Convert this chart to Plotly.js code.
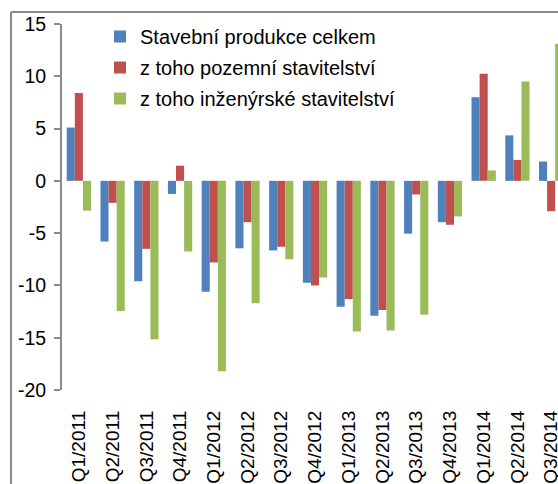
<!DOCTYPE html>
<html>
<head>
<meta charset="utf-8">
<script src="https://cdn.plot.ly/plotly-3.0.1.min.js"></script>
<style>
  html, body { margin: 0; padding: 0; overflow: hidden; background: #fff; }
  #chart { width: 600px; height: 484px; }
</style>
</head>
<body>
<div id="chart"></div>
<script>
const categories = ["Q1/2011","Q2/2011","Q3/2011","Q4/2011","Q1/2012","Q2/2012","Q3/2012","Q4/2012",
                    "Q1/2013","Q2/2013","Q3/2013","Q4/2013","Q1/2014","Q2/2014","Q3/2014"];
const seriesNames = ["Stavební produkce celkem", "z toho pozemní stavitelství", "z toho inženýrské stavitelství"];
const celkem    = [5.1, -5.8, -9.6, -1.25, -10.6, -6.45, -6.65, -9.75, -12.05, -12.9, -5.05, -3.95, 8.0, 4.35, 1.85];
const pozemni   = [8.4, -2.1, -6.5, 1.45, -7.8, -3.95, -6.3, -10.0, -11.3, -12.35, -1.3, -4.2, 10.25, 2.0, -2.9];
const inzenyrske= [-2.85, -12.45, -15.15, -6.75, -18.2, -11.7, -7.5, -9.25, -14.4, -14.3, -12.8, -3.4, 1.0, 9.5, 13.1];
const yTicks = [-20, -15, -10, -5, 0, 5, 10, 15];

const colors = ["#4F81BD", "#C0504D", "#9BBB59"];
const values = [celkem, pozemni, inzenyrske];

const W = 600, H = 484, ML = 62, MR = 32, MT = 24, MB = 94;
const PW = W - ML - MR, PH = H - MT - MB;
const px2x = p => (p - ML) / PW;
const px2y = p => 1 - (p - MT) / PH;

const traces = values.map((v, i) => ({
  type: "bar",
  name: seriesNames[i],
  x: categories,
  y: v,
  marker: { color: colors[i], line: { width: 0 } },
  legendgroup: "g" + i,
  hoverinfo: "x+y+name"
}));

const grey = "#8a8a8a";
const font = { family: "Liberation Sans, Arial, sans-serif", color: "#000" };

const layout = {
  width: W, height: H,
  margin: { l: ML, r: MR, t: MT, b: MB, pad: 0 },
  paper_bgcolor: "#fff", plot_bgcolor: "#fff",
  barmode: "group", bargap: 0.28, bargroupgap: 0,
  font: font,
  showlegend: true,
  legend: {
    x: px2x(100), xanchor: "left", y: px2y(17), yanchor: "top",
    bgcolor: "rgba(0,0,0,0)", borderwidth: 0,
    font: { family: font.family, size: 20, color: "#000" },
    tracegroupgap: 2, itemwidth: 30
  },
  xaxis: {
    type: "category", showline: false, showgrid: false, zeroline: false,
    ticks: "", tickangle: -90, ticklabelstandoff: 16,
    tickfont: { family: font.family, size: 19, color: "#000" },
    range: [-0.5, categories.length - 0.5], fixedrange: true
  },
  xaxis2: {
    overlaying: "x", anchor: "free", position: (0 - yTicks[0]) / (yTicks[yTicks.length - 1] - yTicks[0]),
    type: "linear", range: [-0.5, categories.length - 0.5],
    showline: true, linecolor: grey, linewidth: 2,
    ticks: "outside", ticklen: 6, tickwidth: 2, tickcolor: grey,
    tickmode: "linear", tick0: 0.5, dtick: 1,
    showticklabels: false, showgrid: false, zeroline: false, fixedrange: true
  },
  yaxis: {
    range: [yTicks[0], yTicks[yTicks.length - 1]],
    tickvals: yTicks, ticktext: yTicks.map(String),
    showline: true, linecolor: grey, linewidth: 2,
    ticks: "outside", ticklen: 6, tickwidth: 2, tickcolor: grey,
    ticklabelstandoff: 4,
    tickfont: { family: font.family, size: 19.5, color: "#000" },
    showgrid: false, zeroline: false, fixedrange: true
  },
  shapes: [
    { type: "line", xref: "paper", yref: "paper", x0: px2x(11), x1: px2x(11), y0: px2y(H + 5), y1: px2y(12),
      line: { color: grey, width: 2 } },
    { type: "line", xref: "paper", yref: "paper", x0: px2x(11), x1: px2x(W + 5), y0: px2y(12), y1: px2y(12),
      line: { color: grey, width: 2 } }
  ]
};

Plotly.newPlot("chart", traces, layout, { displayModeBar: false, staticPlot: true });
</script>
</body>
</html>
